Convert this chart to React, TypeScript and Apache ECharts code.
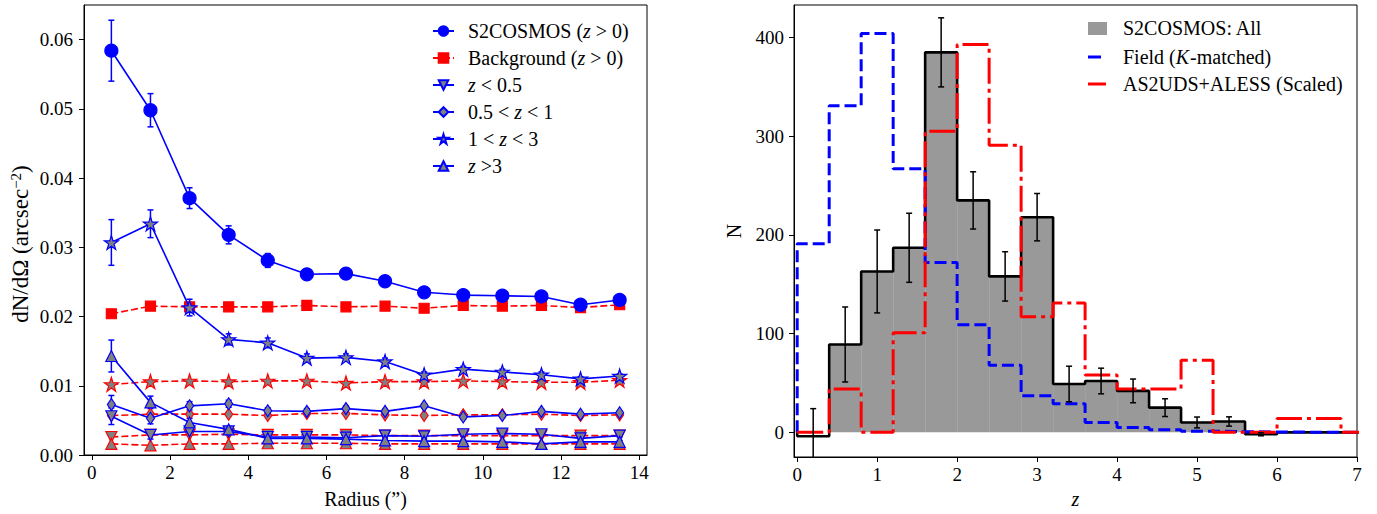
import React, { useEffect, useRef } from 'react';
import * as echarts from 'echarts';

// ---------- Left panel data ----------
const radius = [0.5, 1.5, 2.5, 3.5, 4.5, 5.5, 6.5, 7.5, 8.5, 9.5, 10.5, 11.5, 12.5, 13.5];
const s2All = [0.0584, 0.0498, 0.0371, 0.0318, 0.0281, 0.0261, 0.0262, 0.0251, 0.0235, 0.0231, 0.0230, 0.0229, 0.0217, 0.0224];
const s2AllErr = [0.0044, 0.0024, 0.0015, 0.0013, 0.0010, 0.0008, 0.0008, 0.0007, 0.0006, 0.0006, 0.0006, 0.0006, 0.0005, 0.0005];
const bgAll = [0.0204, 0.0215, 0.0214, 0.0214, 0.0214, 0.0216, 0.0214, 0.0215, 0.0212, 0.0216, 0.0215, 0.0216, 0.0213, 0.0217];
const zLow = [0.0056, 0.0029, 0.0034, 0.0034, 0.0026, 0.0026, 0.0025, 0.0028, 0.0027, 0.0030, 0.0031, 0.0030, 0.0024, 0.0028];
const zLowErr = [0.0012, 0.0006, 0.0005, 0.0005, 0.0004, 0.0003, 0.0003, 0.0003, 0.0003, 0.0003, 0.0003, 0.0002, 0.0002, 0.0002];
const bgLow = [0.0026, 0.0029, 0.0029, 0.0030, 0.0029, 0.0029, 0.0029, 0.0028, 0.0028, 0.0028, 0.0028, 0.0028, 0.0028, 0.0028];
const zMid = [0.0073, 0.0053, 0.0071, 0.0074, 0.0064, 0.0063, 0.0067, 0.0063, 0.0071, 0.0055, 0.0057, 0.0063, 0.0059, 0.0061];
const zMidErr = [0.0013, 0.0008, 0.0006, 0.0005, 0.0004, 0.0004, 0.0004, 0.0003, 0.0003, 0.0003, 0.0003, 0.0003, 0.0002, 0.0002];
const bgMid = [0.0057, 0.0059, 0.0059, 0.0059, 0.0057, 0.0060, 0.0060, 0.0058, 0.0057, 0.0058, 0.0058, 0.0059, 0.0057, 0.0058];
const zInt = [0.0307, 0.0334, 0.0213, 0.0167, 0.0162, 0.0140, 0.0141, 0.0135, 0.0116, 0.0124, 0.0120, 0.0116, 0.0110, 0.0114];
const zIntErr = [0.0033, 0.0020, 0.0012, 0.0008, 0.0007, 0.0006, 0.0005, 0.0005, 0.0004, 0.0004, 0.0004, 0.0004, 0.0003, 0.0003];
const bgInt = [0.0102, 0.0106, 0.0107, 0.0106, 0.0107, 0.0107, 0.0104, 0.0106, 0.0106, 0.0107, 0.0106, 0.0105, 0.0105, 0.0108];
const zHigh = [0.0143, 0.0076, 0.0047, 0.0037, 0.0024, 0.0024, 0.0023, 0.0021, 0.0020, 0.0020, 0.0019, 0.0016, 0.0019, 0.0019];
const zHighErr = [0.0023, 0.0009, 0.0006, 0.0004, 0.0003, 0.0003, 0.0003, 0.0002, 0.0002, 0.0002, 0.0002, 0.0002, 0.0002, 0.0002];
const bgHigh = [0.0016, 0.0014, 0.0016, 0.0016, 0.0017, 0.0017, 0.0017, 0.0016, 0.0016, 0.0016, 0.0016, 0.0016, 0.0016, 0.0016];
const leftXTicks = [0, 2, 4, 6, 8, 10, 12, 14];
const leftYTicks = [0, 0.01, 0.02, 0.03, 0.04, 0.05, 0.06];

// ---------- Right panel data ----------
const binEdges = [0, 0.4, 0.8, 1.2, 1.6, 2.0, 2.4, 2.8, 3.2, 3.6, 4.0, 4.4, 4.8, 5.2, 5.6, 6.0, 6.4, 6.8, 7.2];
const s2Hist = [-4, 89, 163, 187, 385, 235, 158, 218, 49, 52, 42, 25, 10, 11, -2, 0, 0, 0];
const s2HistErr = [28, 38, 42, 35, 35, 29, 25, 24, 18, 13, 12, 9, 5.5, 4.7, 1.5, 0, 0, 0];
const fieldHist = [191, 331, 404, 267, 172, 109, 68, 37, 29, 10, 5, 2.5, 1.2, 0.6, 0.3, 0.2, 0, 0];
const as2Hist = [0, 44, 0, 101, 305, 393, 291, 117, 131, 58, 44, 44, 73, 0, 0, 14, 14, 0];
const rightXTicks = [0, 1, 2, 3, 4, 5, 6, 7];
const rightYTicks = [0, 100, 200, 300, 400];

const FONT = 'Liberation Serif';
const BLUE = '#0000ff';
const RED = '#ff0000';
const GREY = '#808080';

// 5-point star marker shape (geometry only)
const STAR =
  'path://' +
  Array.from({ length: 10 }, (_, k) => {
    const a = ((-90 + k * 36) * Math.PI) / 180;
    const r = k % 2 === 0 ? 1 : 0.382;
    return `${k === 0 ? 'M' : 'L'}${(r * Math.cos(a) * 100).toFixed(1)},${(r * Math.sin(a) * 100).toFixed(1)}`;
  }).join(' ') +
  ' Z';

const pairs = (xs: number[], ys: number[]) => xs.map((x, i) => [x, ys[i]]);
const errData = (xs: number[], ys: number[], es: number[]) =>
  xs.map((x, i) => [x, ys[i] - es[i], ys[i] + es[i]]).filter((_, i) => es[i] > 0);

const stepPoints = (edges: number[], vals: number[]) => {
  const pts: number[][] = [[edges[0], 0]];
  vals.forEach((v, i) => {
    pts.push([edges[i], v], [edges[i + 1], v]);
  });
  pts.push([edges[edges.length - 1], 0]);
  return pts;
};

const errRender = (color: string, cap: number, lw: number) => (params: any, api: any) => {
  const x = api.value(0);
  const p1 = api.coord([x, api.value(1)]);
  const p2 = api.coord([x, api.value(2)]);
  const st = { stroke: color, lineWidth: lw };
  return {
    type: 'group',
    children: [
      { type: 'line', shape: { x1: p1[0], y1: p1[1], x2: p2[0], y2: p2[1] }, style: st },
      { type: 'line', shape: { x1: p1[0] - cap, y1: p1[1], x2: p1[0] + cap, y2: p1[1] }, style: st },
      { type: 'line', shape: { x1: p2[0] - cap, y1: p2[1], x2: p2[0] + cap, y2: p2[1] }, style: st },
    ],
  };
};

const blueSeries = (name: string, ys: number[], symbol: string, size: any, fill: string, rotate = 0) => ({
  type: 'line',
  name,
  xAxisIndex: 0,
  yAxisIndex: 0,
  data: pairs(radius, ys),
  symbol,
  symbolSize: size,
  symbolRotate: rotate,
  showSymbol: true,
  lineStyle: { color: BLUE, width: 1.6 },
  itemStyle: { color: fill, borderColor: BLUE, borderWidth: 1.2 },
  z: 5,
  emphasis: { disabled: true },
});

const redSeries = (name: string, ys: number[], symbol: string, size: any, fill: string, rotate = 0) => ({
  type: 'line',
  name,
  xAxisIndex: 0,
  yAxisIndex: 0,
  data: pairs(radius, ys),
  symbol,
  symbolSize: size,
  symbolRotate: rotate,
  lineStyle: { color: RED, width: 1.6, type: [7, 3] },
  itemStyle: { color: fill, borderColor: RED, borderWidth: 1.2 },
  z: 4,
  emphasis: { disabled: true },
});

const errSeries = (ys: number[], es: number[]) => ({
  type: 'custom',
  xAxisIndex: 0,
  yAxisIndex: 0,
  data: errData(radius, ys, es),
  encode: { x: 0, y: [1, 2] },
  renderItem: errRender(BLUE, 3, 1.5),
  z: 3,
  silent: true,
});

const txt = { fontFamily: FONT, fontSize: 20, color: '#000', lineHeight: 20 };
const legendRich = {
  n: { ...txt },
  i: { ...txt, fontStyle: 'italic' },
  sp: { width: 9 },
};
const legendLabels: Record<string, string> = {
  'S2COSMOS (z > 0)': '{sp|}{n|S2COSMOS (}{i|z}{n| > 0)}',
  'Background (z > 0)': '{sp|}{n|Background (}{i|z}{n| > 0)}',
  'z < 0.5': '{sp|}{i|z}{n| < 0.5}',
  '0.5 < z < 1': '{sp|}{n|0.5 < }{i|z}{n| < 1}',
  '1 < z < 3': '{sp|}{n|1 < }{i|z}{n| < 3}',
  'z >3': '{sp|}{i|z}{n| >3}',
};

const axisCommon = {
  axisLine: { show: true, onZero: false, lineStyle: { color: '#000', width: 1 } },
  splitLine: { show: false },
  nameLocation: 'middle',
};

const measure = (t: string, font: string) => {
  const ctx = document.createElement('canvas').getContext('2d');
  if (!ctx) return t.length * 9;
  ctx.font = font;
  return ctx.measureText(t).width;
};

const plainText = (x: number, y: number, text: string, italic = false) => ({
  type: 'text',
  x,
  y,
  style: {
    text,
    fontFamily: FONT,
    fontSize: 20,
    fontStyle: italic ? 'italic' : 'normal',
    fill: '#000',
    verticalAlign: 'middle',
  },
});

const buildOption = (): any => {
  const w1 = measure('Field (', `20px "${FONT}"`);
  const w2 = measure('K', `italic 20px "${FONT}"`);
  return {
    animation: false,
    backgroundColor: '#fff',
    textStyle: { fontFamily: FONT },
    grid: [
      { left: 84, top: 5, width: 563, height: 452, show: true, borderColor: '#000', borderWidth: 1 },
      { left: 794, top: 5, width: 563, height: 452, show: true, borderColor: '#000', borderWidth: 1 },
    ],
    xAxis: [
      {
        ...axisCommon,
        type: 'value',
        gridIndex: 0,
        min: -0.2,
        max: 14.2,
        axisTick: { show: true, length: 5, customValues: leftXTicks, lineStyle: { color: '#000' } },
        axisLabel: { customValues: leftXTicks, fontFamily: FONT, fontSize: 19, color: '#000', margin: 8 },
        name: 'Radius (”)',
        nameGap: 34,
        nameTextStyle: { fontFamily: FONT, fontSize: 20, color: '#000' },
      },
      {
        ...axisCommon,
        type: 'value',
        gridIndex: 1,
        min: -0.04,
        max: 7,
        axisTick: { show: true, length: 5, customValues: rightXTicks, lineStyle: { color: '#000' } },
        axisLabel: { customValues: rightXTicks, fontFamily: FONT, fontSize: 19, color: '#000', margin: 8 },
        name: 'z',
        nameGap: 32,
        nameTextStyle: { fontFamily: FONT, fontSize: 20, color: '#000', fontStyle: 'italic' },
      },
    ],
    yAxis: [
      {
        ...axisCommon,
        type: 'value',
        gridIndex: 0,
        min: 0,
        max: 0.065,
        axisTick: { show: true, length: 5, customValues: leftYTicks, lineStyle: { color: '#000' } },
        axisLabel: {
          customValues: leftYTicks,
          fontFamily: FONT,
          fontSize: 19,
          color: '#000',
          margin: 11,
          formatter: (v: number) => v.toFixed(2),
        },
        name: '{a|dN/dΩ (arcsec}{s|−2}{a|)}',
        nameGap: 52,
        nameTextStyle: {
          fontFamily: FONT,
          padding: [0, 28, 0, 0],
          rich: {
            a: { fontFamily: FONT, fontSize: 23, color: '#000', lineHeight: 24, verticalAlign: 'bottom' },
            s: { fontFamily: FONT, fontSize: 15, color: '#000', lineHeight: 24, verticalAlign: 'top', padding: [0, 0, 9, 0] },
          },
        },
      },
      {
        ...axisCommon,
        type: 'value',
        gridIndex: 1,
        min: -25,
        max: 433,
        axisTick: { show: true, length: 5, customValues: rightYTicks, lineStyle: { color: '#000' } },
        axisLabel: { customValues: rightYTicks, fontFamily: FONT, fontSize: 19, color: '#000', margin: 10 },
        name: 'N',
        nameGap: 50,
        nameTextStyle: { fontFamily: FONT, fontSize: 20, color: '#000' },
      },
    ],
    legend: [
      {
        left: 432,
        top: 21,
        padding: 0,
        orient: 'vertical',
        itemWidth: 21,
        itemHeight: 12,
        itemGap: 7,
        selectedMode: false,
        data: ['S2COSMOS (z > 0)', 'Background (z > 0)', 'z < 0.5', '0.5 < z < 1', '1 < z < 3', 'z >3'],
        formatter: (name: string) => legendLabels[name] || name,
        textStyle: { fontFamily: FONT, fontSize: 20, color: '#000', rich: legendRich },
      },
    ],
    graphic: [
      { type: 'rect', shape: { x: 1088, y: 22, width: 19, height: 13 }, style: { fill: '#999999' } },
      { type: 'line', shape: { x1: 1088, y1: 57, x2: 1101, y2: 57 }, style: { stroke: BLUE, lineWidth: 3 } },
      { type: 'line', shape: { x1: 1088, y1: 84, x2: 1106, y2: 84 }, style: { stroke: RED, lineWidth: 3 } },
      plainText(1123, 28, 'S2COSMOS: All'),
      plainText(1123, 57, 'Field ('),
      plainText(1123 + w1, 57, 'K', true),
      plainText(1123 + w1 + w2 + 1, 57, '-matched)'),
      plainText(1123, 84, 'AS2UDS+ALESS (Scaled)'),
    ],
    series: [
      // background (red) series
      redSeries('Background (z > 0)', bgAll, 'rect', 10, RED),
      redSeries('bg z<0.5', bgLow, 'triangle', 11, GREY, 180),
      redSeries('bg 0.5<z<1', bgMid, 'diamond', [8, 12], GREY),
      redSeries('bg 1<z<3', bgInt, STAR, 14, GREY),
      redSeries('bg z>3', bgHigh, 'triangle', 11, GREY),
      // error bars
      errSeries(s2All, s2AllErr),
      errSeries(zLow, zLowErr),
      errSeries(zMid, zMidErr),
      errSeries(zInt, zIntErr),
      errSeries(zHigh, zHighErr),
      // S2COSMOS (blue) series
      blueSeries('S2COSMOS (z > 0)', s2All, 'circle', 13, BLUE),
      blueSeries('z < 0.5', zLow, 'triangle', 11, GREY, 180),
      blueSeries('0.5 < z < 1', zMid, 'diamond', [8, 12], GREY),
      blueSeries('1 < z < 3', zInt, STAR, 14, GREY),
      blueSeries('z >3', zHigh, 'triangle', 11, GREY),

      // ---------- right panel ----------
      {
        type: 'custom',
        name: 'S2COSMOS: All',
        xAxisIndex: 1,
        yAxisIndex: 1,
        data: s2Hist.map((v, i) => [binEdges[i], binEdges[i + 1], v]),
        encode: { x: [0, 1], y: 2 },
        clip: true,
        z: 1,
        silent: true,
        renderItem: (params: any, api: any) => {
          const v = api.value(2);
          if (!(v > 0)) return null;
          const p0 = api.coord([api.value(0), 0]);
          const p1 = api.coord([api.value(1), v]);
          return {
            type: 'rect',
            shape: { x: p0[0], y: p1[1], width: p1[0] - p0[0], height: p0[1] - p1[1] },
            style: { fill: '#999999' },
          };
        },
      },
      {
        type: 'line',
        name: 'S2COSMOS outline',
        xAxisIndex: 1,
        yAxisIndex: 1,
        data: stepPoints(binEdges, s2Hist),
        showSymbol: false,
        symbol: 'none',
        clip: true,
        lineStyle: { color: '#000', width: 2.6 },
        z: 2,
        emphasis: { disabled: true },
      },
      {
        type: 'line',
        name: 'Field (K-matched)',
        xAxisIndex: 1,
        yAxisIndex: 1,
        data: stepPoints(binEdges, fieldHist),
        showSymbol: false,
        symbol: 'none',
        clip: true,
        lineStyle: { color: BLUE, width: 3, type: [12, 5] },
        z: 3,
        emphasis: { disabled: true },
      },
      {
        type: 'line',
        name: 'AS2UDS+ALESS (Scaled)',
        xAxisIndex: 1,
        yAxisIndex: 1,
        data: stepPoints(binEdges, as2Hist),
        showSymbol: false,
        symbol: 'none',
        clip: true,
        lineStyle: { color: RED, width: 3, type: [26, 5, 4, 5] },
        z: 3,
        emphasis: { disabled: true },
      },
      {
        type: 'custom',
        xAxisIndex: 1,
        yAxisIndex: 1,
        data: binEdges
          .slice(0, -1)
          .map((e, i) => [(e + binEdges[i + 1]) / 2, s2Hist[i] - s2HistErr[i], s2Hist[i] + s2HistErr[i]])
          .filter((_, i) => s2HistErr[i] > 0),
        encode: { x: 0, y: [1, 2] },
        clip: true,
        z: 4,
        silent: true,
        renderItem: errRender('#000', 3, 1.5),
      },
    ],
  };
};

const CSS = `.chart-root svg text, .chart-root svg tspan { font-family: 'Liberation Serif', serif !important; }`;

export default function App() {
  const ref = useRef<HTMLDivElement>(null);
  useEffect(() => {
    const chart = echarts.init(ref.current as HTMLDivElement, null, { renderer: 'svg' });
    chart.setOption(buildOption());
    return () => chart.dispose();
  }, []);
  return (
    <>
      <style>{CSS}</style>
      <div
        ref={ref}
        className="chart-root"
        style={{ position: 'fixed', left: 0, top: 0, width: 1377, height: 514, background: '#fff' }}
      />
    </>
  );
}
